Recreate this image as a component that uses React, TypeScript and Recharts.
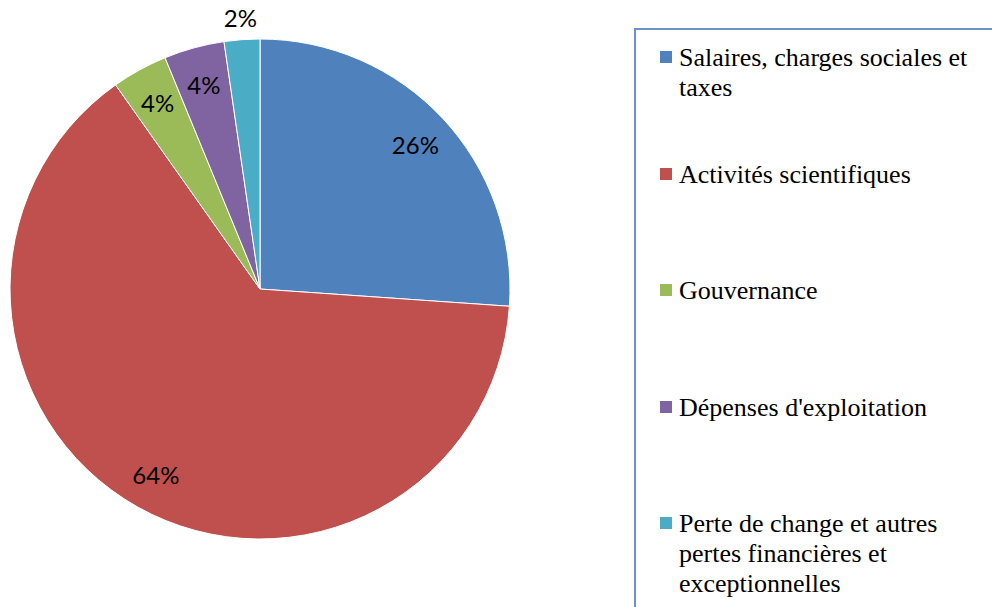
import { PieChart, Pie, Cell, Legend } from 'recharts';

const categories = [
  'Salaires, charges sociales et taxes',
  'Activités scientifiques',
  'Gouvernance',
  "Dépenses d'exploitation",
  'Perte de change et autres pertes financières et exceptionnelles',
];
const shares = [26.1, 64.1, 3.6, 3.9, 2.3];
const colors = ['#4F81BD', '#C0504D', '#9BBB59', '#8064A2', '#4BACC6'];

const data = categories.map((name, i) => ({ name, value: shares[i] }));

const RAD = Math.PI / 180;

const renderLabel = (props: any) => {
  const { cx, cy, midAngle, outerRadius, percent } = props;
  // small slices get their label outside the pie
  const r = percent < 0.03 ? outerRadius + 22 : outerRadius * 0.85;
  const x = cx + r * Math.cos(-midAngle * RAD);
  const y = cy + r * Math.sin(-midAngle * RAD);
  return (
    <text
      x={x}
      y={y}
      fill="#000"
      textAnchor="middle"
      dominantBaseline="central"
      style={{ fontFamily: 'Lato, sans-serif', fontSize: 24 }}
    >
      {`${Math.round(percent * 100)}%`}
    </text>
  );
};

// legend drawn in data order, not the sorted payload order
const renderLegend = () => (
  <div style={{ paddingTop: 13 }}>
    {categories.map((name, i) => (
      <div key={name} style={{ height: 116.5, display: 'flex', alignItems: 'flex-start' }}>
        <span
          style={{
            display: 'inline-block',
            width: 12,
            height: 12,
            background: colors[i],
            marginLeft: 24,
            marginTop: 8,
            marginRight: 7,
            flexShrink: 0,
          }}
        />
        <span
          style={{
            fontFamily: '"Liberation Serif", "Times New Roman", serif',
            fontSize: 26,
            lineHeight: '30px',
            color: '#000',
            width: 305,
          }}
        >
          {name}
        </span>
      </div>
    ))}
  </div>
);

export default function App() {
  return (
    <div style={{ position: 'absolute', left: 0, top: 0, width: 992, height: 607, overflow: 'hidden', background: '#fff' }}>
      <PieChart width={992} height={607} margin={{ top: 0, right: 0, bottom: 0, left: 0 }}>
        <Pie
          data={data}
          dataKey="value"
          nameKey="name"
          cx={260}
          cy={289}
          outerRadius={250}
          startAngle={90}
          endAngle={-270}
          stroke="#fff"
          strokeWidth={1}
          label={renderLabel}
          labelLine={false}
          isAnimationActive={false}
        >
          {data.map((d, i) => (
            <Cell key={d.name} fill={colors[i]} />
          ))}
        </Pie>
        <Legend
          layout="vertical"
          content={renderLegend}
          wrapperStyle={{
            position: 'absolute',
            left: 634,
            top: 28,
            width: 400,
            height: 620,
            border: '2px solid #6A93C9',
            boxSizing: 'border-box',
          }}
        />
      </PieChart>
    </div>
  );
}
